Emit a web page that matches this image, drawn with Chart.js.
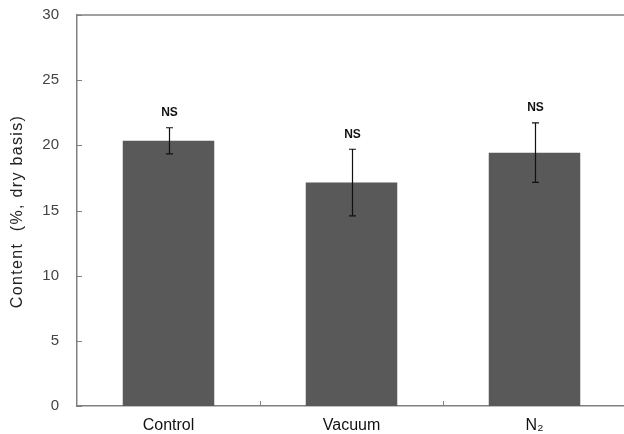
<!DOCTYPE html>
<html>
<head>
<meta charset="utf-8">
<script src="https://cdn.jsdelivr.net/npm/chart.js@4.4.0/dist/chart.umd.min.js"></script>
<style>
  html, body { margin: 0; padding: 0; background: #fff; overflow: hidden; }
  #wrap { width: 630px; height: 434px; }
</style>
</head>
<body>
<div id="wrap"><canvas id="grafica" width="630" height="434"></canvas></div>
<script>
const categorias = ["Control", "Vacuum", "N\u2082"];
const valores = [20.35, 17.14, 19.44];
const errores = [1.0, 2.56, 2.28];
const etiquetas = ["NS", "NS", "NS"];
const ticksY = [0, 5, 10, 15, 20, 25, 30];
const tituloY = "Content  (%, dry basis)";

const colorEje = "#808080";
const fuente = "'Liberation Sans', Arial, sans-serif";

// ticks hacia dentro, borde superior, barras de error y textos
const decoracion = {
  id: "decoracion",
  afterDatasetsDraw(chart) {
    const { ctx, chartArea: a, scales: { x, y } } = chart;
    ctx.save();
    ctx.strokeStyle = colorEje;
    ctx.lineWidth = 1.5;
    ctx.beginPath();
    ctx.moveTo(a.left, a.top);
    ctx.lineTo(a.right, a.top);
    ctx.stroke();

    ctx.lineWidth = 1;
    ticksY.forEach(v => {
      const py = Math.round(y.getPixelForValue(v)) + 0.5;
      ctx.beginPath();
      ctx.moveTo(a.left, py);
      ctx.lineTo(a.left + 5, py);
      ctx.stroke();
    });
    const paso = x.getPixelForValue(1) - x.getPixelForValue(0);
    for (let i = 1; i < categorias.length; i++) {
      const px = Math.round(x.getPixelForValue(i) - paso / 2) + 0.5;
      ctx.beginPath();
      ctx.moveTo(px, a.bottom);
      ctx.lineTo(px, a.bottom - 5);
      ctx.stroke();
    }

    ctx.strokeStyle = "#111";
    ctx.lineWidth = 1.2;
    ctx.fillStyle = "#111";
    ctx.font = "bold 12px " + fuente;
    ctx.textAlign = "center";
    ctx.textBaseline = "middle";
    valores.forEach((v, i) => {
      const px = Math.round(x.getPixelForValue(i)) + 0.5;
      const top = y.getPixelForValue(v + errores[i]);
      const bot = y.getPixelForValue(v - errores[i]);
      ctx.beginPath();
      ctx.moveTo(px, top); ctx.lineTo(px, bot);
      ctx.moveTo(px - 3.5, top); ctx.lineTo(px + 3.5, top);
      ctx.moveTo(px - 3.5, bot); ctx.lineTo(px + 3.5, bot);
      ctx.stroke();
      ctx.fillText(etiquetas[i], px, top - 15);
    });

    // titulo del eje Y, estirado como en el original
    ctx.fillStyle = "#222";
    ctx.font = "16px " + fuente;
    const w = ctx.measureText(tituloY).width;
    ctx.letterSpacing = ((192 - w) / (tituloY.length - 1)).toFixed(2) + "px";
    ctx.translate(18, (a.top + a.bottom) / 2 + 1);
    ctx.rotate(-Math.PI / 2);
    ctx.fillText(tituloY, 0, 0);
    ctx.restore();
  }
};

new Chart(document.getElementById("grafica"), {
  type: "bar",
  data: {
    labels: categorias,
    datasets: [{
      data: valores,
      backgroundColor: "#595959",
      borderWidth: 0,
      categoryPercentage: 1,
      barPercentage: 0.5
    }]
  },
  options: {
    responsive: false,
    animation: false,
    layout: { padding: { top: 15, right: 4, left: 0, bottom: 0 } },
    plugins: { legend: { display: false }, tooltip: { enabled: false } },
    scales: {
      x: {
        grid: { display: false },
        border: { color: colorEje, width: 1.5 },
        ticks: { color: "#111", padding: 2, font: { family: fuente, size: 16 } },
        afterFit: s => { s.height = 28; s.paddingLeft = 0; s.paddingRight = 0; }
      },
      y: {
        min: 0, max: 30,
        grid: { display: false },
        border: { color: colorEje, width: 1.5 },
        ticks: { stepSize: 5, color: "#444", padding: 10, font: { family: fuente, size: 15 } },
        afterFit: s => { s.width = 77; s.paddingTop = 0; s.paddingBottom = 0; }
      }
    }
  },
  plugins: [decoracion]
});
</script>
</body>
</html>
